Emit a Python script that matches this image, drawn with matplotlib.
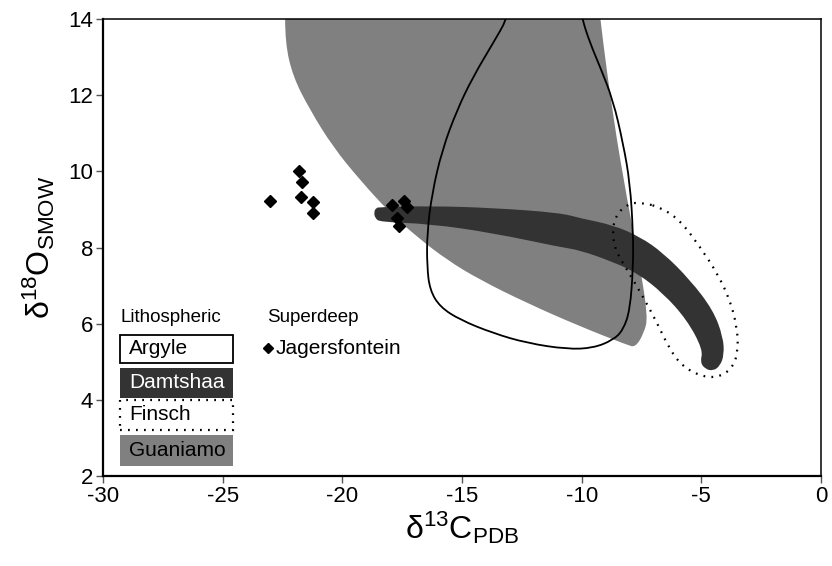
import matplotlib
matplotlib.use("Agg")
import matplotlib.pyplot as plt
import numpy as np
from matplotlib.patches import PathPatch, Rectangle
from matplotlib.path import Path

plt.rcParams['font.family'] = ['Liberation Sans', 'DejaVu Sans']
plt.rcParams['mathtext.fontset'] = 'custom'
plt.rcParams['mathtext.rm'] = 'Liberation Sans'
plt.rcParams['mathtext.it'] = 'Liberation Sans'

# ---- Data ----
# Guaniamo field (grey fill)
guaniamo_x = [-22.39, -22.39, -22.06, -21.35, -20.39, -19.26, -18.01, -16.88, -15.62, -14.25,
              -12.28, -10.19, -8.10, -7.75, -7.40, -7.23, -7.56, -8.10, -8.69, -9.23, -9.30]
guaniamo_y = [14.6, 13.37, 12.48, 11.61, 10.64, 9.77, 8.91, 8.28, 7.67, 7.15,
              6.54, 5.96, 5.44, 5.38, 5.75, 6.17, 7.49, 9.25, 11.43, 14.0, 14.6]

# Damtshaa field (dark band)
damtshaa_x = [-18.59, -18.42, -16.33, -13.70, -10.90, -10.07, -8.69, -7.56, -6.60, -5.47,
              -4.51, -4.09, -4.05, -4.22, -4.51, -4.84, -5.05, -4.93, -5.60, -6.60,
              -7.68, -8.69, -10.07, -10.90, -13.70, -16.33, -18.42, -18.63, -18.68]
damtshaa_y = [9.04, 9.06, 9.09, 9.04, 8.91, 8.77, 8.59, 8.28, 7.86, 7.15,
              6.36, 5.65, 5.18, 4.89, 4.76, 4.81, 4.99, 5.31, 6.10, 6.80,
              7.33, 7.62, 7.93, 8.01, 8.38, 8.62, 8.67, 8.77, 8.93]

# Argyle field (solid outline)
argyle_x = [-12.90, -13.12, -13.70, -14.54, -15.21, -15.83, -16.25, -16.46, -16.46, -16.34,
            -15.92, -15.08, -13.70, -12.28, -10.61, -9.52, -8.69, -8.27, -7.98, -7.85,
            -7.85, -7.98, -8.27, -8.69, -9.23, -9.65, -9.98, -10.15]
argyle_y = [14.6, 14.0, 13.37, 12.48, 11.61, 10.56, 9.43, 8.38, 7.49, 6.88,
            6.44, 6.10, 5.75, 5.49, 5.33, 5.36, 5.57, 5.83, 6.36, 7.49,
            8.38, 9.69, 10.74, 11.87, 12.74, 13.37, 14.0, 14.6]

# Finsch field (dotted outline)
finsch_x = [-7.43, -7.98, -8.52, -8.73, -8.60, -8.10, -7.43, -6.85, -6.31, -5.76,
            -4.93, -4.22, -3.67, -3.46, -3.51, -3.80, -4.34, -5.05, -5.89, -6.72]
finsch_y = [9.17, 9.17, 8.91, 8.46, 7.93, 7.41, 6.70, 6.02, 5.31, 4.86,
            4.60, 4.60, 4.86, 5.31, 5.91, 6.62, 7.33, 8.01, 8.72, 9.06]

# Jagersfontein superdeep diamonds
jager_c = [-21.81, -21.68, -23.02, -21.73, -21.22, -21.22, -17.92, -17.42, -17.30, -17.71, -17.63]
jager_o = [10.01, 9.72, 9.22, 9.33, 9.19, 8.91, 9.12, 9.22, 9.06, 8.77, 8.56]

xticks = [-30, -25, -20, -15, -10, -5, 0]
yticks = [2, 4, 6, 8, 10, 12, 14]


def smooth_closed_path(xs, ys):
    """Closed quadratic Bezier path using the given vertices as control points."""
    P = np.column_stack([xs, ys])
    n = len(P)
    mids = (P + np.roll(P, -1, axis=0)) / 2.0
    verts = [mids[-1]]
    codes = [Path.MOVETO]
    for i in range(n):
        verts += [P[i], mids[i]]
        codes += [Path.CURVE3, Path.CURVE3]
    verts.append(mids[-1])
    codes.append(Path.CLOSEPOLY)
    return Path(verts, codes)


# ---- Figure ----
fig = plt.figure(figsize=(8.32, 5.66), dpi=100)
ax = fig.add_axes([103/832, 90/566, 718/832, 457/566])
ax.set_xlim(-30, 0)
ax.set_ylim(2, 14)

ax.add_patch(PathPatch(smooth_closed_path(guaniamo_x, guaniamo_y),
                       facecolor='#808080', edgecolor='none', zorder=1))
ax.add_patch(PathPatch(smooth_closed_path(damtshaa_x, damtshaa_y),
                       facecolor='#333333', edgecolor='none', zorder=2))
ax.add_patch(PathPatch(smooth_closed_path(argyle_x, argyle_y),
                       facecolor='none', edgecolor='black', linewidth=1.3, zorder=3))
ax.add_patch(PathPatch(smooth_closed_path(finsch_x, finsch_y),
                       facecolor='none', edgecolor='black', linewidth=1.6,
                       linestyle=(0, (0.8, 2.8)), zorder=4))
ax.plot(jager_c, jager_o, linestyle='none', marker='D', markersize=6.5,
        color='black', zorder=5)

# Legend-like annotations
def yf(py):
    return (476 - py) / 457.0
def xf(px):
    return (px - 103) / 718.0

tr = ax.transAxes
ax.text(xf(120), yf(322), 'Lithospheric', transform=tr, fontsize=13.5, va='baseline', ha='left')
ax.text(xf(267), yf(322), 'Superdeep', transform=tr, fontsize=13.5, va='baseline', ha='left')
boxes = [('Argyle', 335, 363, 'white', 'black', 'solid', 'black'),
         ('Damtshaa', 368, 398, '#333333', 'none', 'solid', 'white'),
         ('Finsch', 400, 430, 'white', 'black', 'dotted', 'black'),
         ('Guaniamo', 435, 466, '#808080', 'none', 'solid', 'black')]
for name, t, b, fc, ec, ls, tc in boxes:
    ax.add_patch(Rectangle((xf(120), yf(b)), xf(233) - xf(120), yf(t) - yf(b),
                           transform=tr, facecolor=fc, edgecolor=ec,
                           linestyle=(0, (0.8, 2.8)) if ls == 'dotted' else '-',
                           linewidth=1.6 if ls == 'dotted' else 1.3, zorder=6))
    ax.text(xf(129), yf((t + b) / 2), name, transform=tr, fontsize=15,
            va='center', ha='left', color=tc, zorder=7)
ax.plot([xf(268)], [yf(348)], transform=tr, marker='D', markersize=5,
        color='black', linestyle='none', zorder=7)
ax.text(xf(276), yf(348), 'Jagersfontein', transform=tr, fontsize=15,
        va='center', ha='left', zorder=7)

ax.set_xticks(xticks)
ax.set_yticks(yticks)
ax.set_xticklabels([str(v) for v in xticks])
ax.set_yticklabels([str(v) for v in yticks])
ax.tick_params(direction='out', length=5, width=1, color='#555555', labelsize=16, pad=2)

for side in ['left', 'bottom']:
    ax.spines[side].set_linewidth(1.6)
for side in ['top', 'right']:
    ax.spines[side].set_linewidth(1.1)

ax.set_xlabel(r'$\mathregular{δ^{13}C_{PDB}}$', fontsize=23, labelpad=2)
ax.set_ylabel(r'$\mathregular{δ^{18}O_{SMOW}}$', fontsize=23, labelpad=8)

fig.text(9/832, 1 - 561/566, 'c', fontsize=22, fontweight='bold', va='top', ha='left')

fig.savefig('out.png', dpi=100)
